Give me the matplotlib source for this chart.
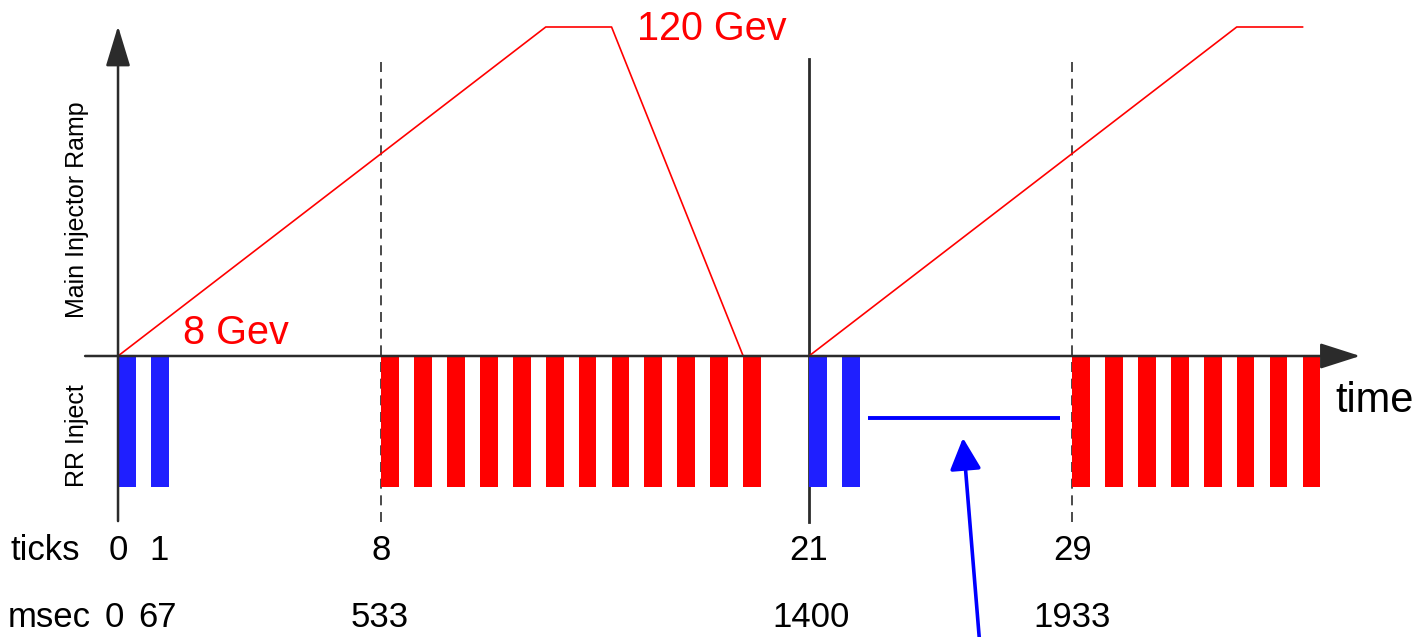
import matplotlib
matplotlib.use("Agg")
from matplotlib import pyplot as plt
from matplotlib.patches import FancyArrowPatch

plt.rcParams['font.family'] = ['Liberation Sans', 'DejaVu Sans']

# --- data (x in ticks, y in GeV for the ramp) ---
ramp1_t = [0, 13, 15, 19]
ramp1_gev = [8, 120, 120, 8]
ramp2_t = [21, 34, 36]
ramp2_gev = [8, 120, 120]

blue_ticks = [0, 1, 21, 22]
red_ticks = list(range(8, 20)) + list(range(29, 37))

tick_pos = [0, 1.25, 8, 21, 29]
tick_labels = ["0", "1", "8", "21", "29"]
msec_pos = [-0.1, 1.2, 7.95, 21.05, 29.0]
msec_labels = ["0", "67", "533", "1400", "1933"]

dashed_ticks = [8, 29]
solid_ticks = [21]

gap_t = [22.8, 28.63]  # blue bar marking the empty slot

# --- layout ---
BASE = 8.0          # ramp starts at 8 GeV on the time axis
BAR_H = 44.6        # depth of the RR inject bars below the axis
BAR_W = 0.54
LINE_TOP = 109.1
LINE_BOT = -48.5
DARK = "#2b2b2b"

fig = plt.figure(figsize=(14.2, 6.37), dpi=100)
ax = fig.add_axes([0, 0, 1, 1])
ax.set_xlim(-3.587, 39.57)
ax.set_ylim(-87.66, 129.19)
ax.axis("off")

# vertical markers
for t in dashed_ticks:
    ax.plot([t, t], [LINE_BOT, LINE_TOP], color=DARK, lw=1.2, ls=(0, (6, 4)), zorder=1)
for t in solid_ticks:
    ax.plot([t, t], [LINE_BOT, LINE_TOP], color=DARK, lw=2.0, zorder=1)

# injection bars
ax.bar(blue_ticks, -BAR_H, bottom=BASE, width=BAR_W, align="edge",
       color="#1f1fff", zorder=2)
ax.bar(red_ticks, -BAR_H, bottom=BASE, width=BAR_W, align="edge",
       color="#ff0000", zorder=2)

# main injector ramp
ax.plot(ramp1_t, ramp1_gev, color="#ff0000", lw=1.2, zorder=3)
ax.plot(ramp2_t, ramp2_gev, color="#ff0000", lw=1.2, zorder=3)

# axes arrows
ax.add_patch(FancyArrowPatch((-1.0, BASE), (37.75, BASE),
                             arrowstyle="-|>,head_length=1.25,head_width=0.4",
                             mutation_scale=20, shrinkA=0, shrinkB=0,
                             color=DARK, lw=1.8, zorder=4))
ax.add_patch(FancyArrowPatch((0, -48.2), (0, 120.3),
                             arrowstyle="-|>,head_length=1.25,head_width=0.38",
                             mutation_scale=20, shrinkA=0, shrinkB=0,
                             color=DARK, lw=1.8, zorder=4))

# empty slot marker and pointer
gap_y = BASE - 21.1
ax.plot(gap_t, [gap_y, gap_y], color="#0000ff", lw=2.8, solid_capstyle="butt")
ax.add_patch(FancyArrowPatch((26.23, -95.5), (25.68, -19.9),
                             arrowstyle="-|>,head_length=0.97,head_width=0.48",
                             mutation_scale=20, shrinkA=0, shrinkB=0,
                             color="#0000ff", lw=2.6, clip_on=False))

# labels
ax.text(15.78, 119.2, "120 Gev", color="#ff0000", fontsize=28.5, ha="left", va="center")
ax.text(1.98, 15.8, "8 Gev", color="#ff0000", fontsize=28.5, ha="left", va="center")
ax.text(37.0, -7.3, "time", color="black", fontsize=30, ha="left", va="center")

ax.text(-1.25, 57.8, "Main Injector Ramp", rotation=90, fontsize=18,
        ha="center", va="center")
ax.text(-1.25, -19.2, "RR Inject", rotation=90, fontsize=18,
        ha="center", va="center")

row_ticks = BASE - (551 - 356) / 2.9375
row_msec = BASE - (618 - 356) / 2.9375
ax.text(-3.28, row_ticks, "ticks", fontsize=25, ha="left", va="center")
ax.text(-3.34, row_msec, "msec", fontsize=25, ha="left", va="center")
for p, lab in zip(tick_pos, tick_labels):
    ax.text(p, row_ticks, lab, fontsize=25, ha="center", va="center")
for p, lab in zip(msec_pos, msec_labels):
    ax.text(p, row_msec, lab, fontsize=25, ha="center", va="center")

fig.savefig("out.png", dpi=100)
